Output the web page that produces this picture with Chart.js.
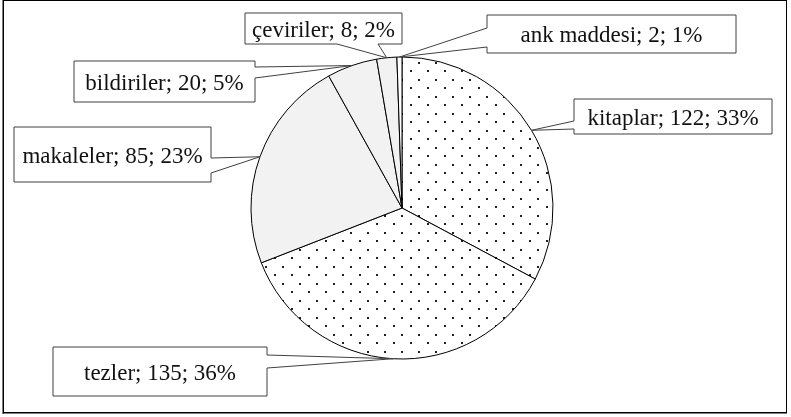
<!DOCTYPE html>
<html>
<head>
<meta charset="utf-8">
<script src="https://cdn.jsdelivr.net/npm/chart.js@4"></script>
<style>
  html, body { margin: 0; padding: 0; background: #fff; }
  #wrap { width: 791px; height: 417px; }
</style>
</head>
<body>
<div id="wrap"><canvas id="c" width="791" height="417"></canvas></div>
<script>
// ---- data ----
const categories = ["kitaplar", "tezler", "makaleler", "bildiriler", "çeviriler", "ank maddesi"];
const counts = [122, 135, 85, 20, 8, 2];
const percents = ["33%", "36%", "23%", "5%", "2%", "1%"];

// ---- styling / layout (not data) ----
function dotPattern() {
  const p = document.createElement('canvas');
  p.width = 17; p.height = 17;
  const g = p.getContext('2d');
  g.fillStyle = '#fff';
  g.fillRect(0, 0, 17, 17);
  g.fillStyle = '#222';
  g.fillRect(2, 2, 2, 2);
  g.fillRect(10, 11, 2, 2);
  return g.createPattern(p, 'repeat');
}
const dots = dotPattern();
const fills = [dots, dots, '#f2f2f2', '#f2f2f2', '#f2f2f2', '#ffffff'];

// callout boxes: [left, top, right, bottom], side of wedge, wedge base positions
const callouts = [
  { box: [574, 99, 772, 134], side: 'left',   base: [121, 129] },
  { box: [53, 347, 267, 396], side: 'right',  base: [355, 368] },
  { box: [14, 127, 211, 182], side: 'right',  base: [158, 173] },
  { box: [74, 61, 255, 102],  side: 'right',  base: [67, 78] },
  { box: [245, 13, 402, 44],  side: 'bottom', base: [337, 378] },
  { box: [487, 15, 736, 53],  side: 'left',   base: [28, 47] }
];

const calloutPlugin = {
  id: 'callouts',
  afterDatasetsDraw(chart) {
    const ctx = chart.ctx;
    const meta = chart.getDatasetMeta(0);
    ctx.save();
    meta.data.forEach((arc, i) => {
      const mid = (arc.startAngle + arc.endAngle) / 2;
      const ax = arc.x + Math.cos(mid) * arc.outerRadius;
      const ay = arc.y + Math.sin(mid) * arc.outerRadius;
      const c = callouts[i];
      const [l, t, r, b] = c.box;
      ctx.beginPath();
      if (c.side === 'left') {
        ctx.moveTo(l, t); ctx.lineTo(r, t); ctx.lineTo(r, b); ctx.lineTo(l, b);
        ctx.lineTo(l, c.base[1]); ctx.lineTo(ax, ay); ctx.lineTo(l, c.base[0]);
      } else if (c.side === 'right') {
        ctx.moveTo(l, t); ctx.lineTo(r, t); ctx.lineTo(r, c.base[0]); ctx.lineTo(ax, ay);
        ctx.lineTo(r, c.base[1]); ctx.lineTo(r, b); ctx.lineTo(l, b);
      } else {
        ctx.moveTo(l, t); ctx.lineTo(r, t); ctx.lineTo(r, b); ctx.lineTo(c.base[1], b);
        ctx.lineTo(ax, ay); ctx.lineTo(c.base[0], b); ctx.lineTo(l, b);
      }
      ctx.closePath();
      ctx.fillStyle = '#fff';
      ctx.fill();
      ctx.lineWidth = 1;
      ctx.strokeStyle = '#404040';
      ctx.stroke();
      ctx.fillStyle = '#111';
      ctx.font = '23px "Liberation Serif", "Times New Roman", serif';
      ctx.textAlign = 'center';
      ctx.textBaseline = 'alphabetic';
      const text = categories[i] + '; ' + counts[i] + '; ' + percents[i];
      ctx.fillText(text, (l + r) / 2, (t + b) / 2 + 8);
    });
    // outer frame
    ctx.strokeStyle = '#000';
    ctx.lineWidth = 1;
    ctx.strokeRect(3.5, 0.5, 783, 412);
    ctx.beginPath();
    ctx.moveTo(3, 0); ctx.lineTo(3, 414);
    ctx.moveTo(3, 413); ctx.lineTo(787, 413);
    ctx.stroke();
    ctx.restore();
  }
};

new Chart(document.getElementById('c'), {
  type: 'pie',
  data: {
    labels: categories,
    datasets: [{
      data: counts,
      backgroundColor: fills,
      borderColor: '#000',
      borderWidth: 1
    }]
  },
  options: {
    responsive: false,
    devicePixelRatio: 1,
    animation: false,
    radius: 151,
    layout: { padding: { left: 13, right: 0, top: 57, bottom: 58 } },
    plugins: { legend: { display: false }, tooltip: { enabled: false } }
  },
  plugins: [calloutPlugin]
});
</script>
</body>
</html>
